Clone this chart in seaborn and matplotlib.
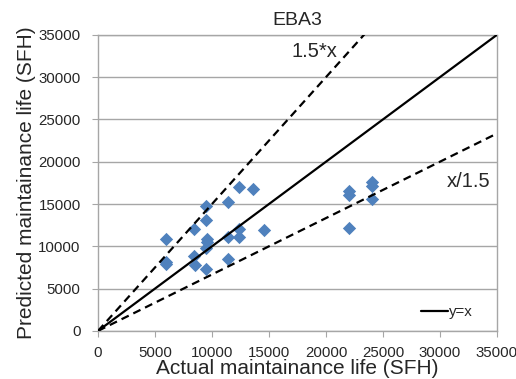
import numpy as np
import pandas as pd
import seaborn as sns
import matplotlib
matplotlib.use("Agg")
import matplotlib.pyplot as plt

actual = [6000, 6000, 6000, 8450, 8450, 8500, 9500, 9500, 9600, 9600, 9500, 9500,
          11400, 11400, 11400, 12400, 12400, 12400, 13600, 14600,
          22000, 22000, 22000, 24000, 24000, 24000]
predicted = [10900, 8100, 7900, 12000, 8850, 7800, 14800, 13100, 10850, 10450, 9850, 7300,
             15200, 11050, 8500, 17000, 12100, 11150, 16750, 11900,
             16550, 16050, 12200, 17600, 17100, 15650]
ref_x = [0, 35000]

df = pd.DataFrame({"Actual": actual, "Predicted": predicted})

sns.set_style("white")
plt.rcParams["font.family"] = ["Liberation Sans", "DejaVu Sans"]

fig = plt.figure(figsize=(5.16, 3.79), dpi=100)
ax = fig.add_axes([0.190, 0.127, 0.773, 0.781])

ax.grid(axis="y", color="#a6a6a6", linewidth=1)
ax.set_axisbelow(True)

sns.scatterplot(data=df, x="Actual", y="Predicted", marker="D", s=46,
                color="#4f81bd", edgecolor="#4f81bd", linewidth=0, ax=ax,
                zorder=3, legend=False)

xs = np.array(ref_x)
sns.lineplot(x=xs, y=xs, color="black", linewidth=1.6, ax=ax, label="y=x", zorder=4)
sns.lineplot(x=xs, y=xs * 1.5, color="black", linewidth=1.6, ax=ax, zorder=4)
sns.lineplot(x=xs, y=xs / 1.5, color="black", linewidth=1.6, ax=ax, zorder=4)
for ln in ax.lines[1:]:
    ln.set_dashes((3.6, 2.3))

ax.text(19000, 33000, "1.5*x", fontsize=14.5, ha="center", va="center")
ax.text(32500, 17700, "x/1.5", fontsize=14.5, ha="center", va="center")

ax.set_xlim(0, 35000)
ax.set_ylim(0, 35000)
ax.set_xticks(range(0, 35001, 5000))
ax.set_yticks(range(0, 35001, 5000))
ax.tick_params(axis="both", labelsize=10.8, length=4.5, color="#a6a6a6", direction="out",
               bottom=True, left=True)
ax.tick_params(axis="x", pad=6.5)
ax.tick_params(axis="y", pad=8)
for sp in ax.spines.values():
    sp.set_color("#a6a6a6")
    sp.set_linewidth(1)

ax.set_title("EBA3", fontsize=14, pad=7)
ax.set_xlabel("Actual maintainance life (SFH)", fontsize=15, labelpad=-1)
ax.set_ylabel("Predicted maintainance life (SFH)", fontsize=15, labelpad=2)

ax.legend(loc="lower right", bbox_to_anchor=(0.955, 0.02), borderaxespad=0,
          frameon=False, fontsize=10.8, handlelength=1.8, handletextpad=0.05)

fig.savefig("out.png", dpi=100)
